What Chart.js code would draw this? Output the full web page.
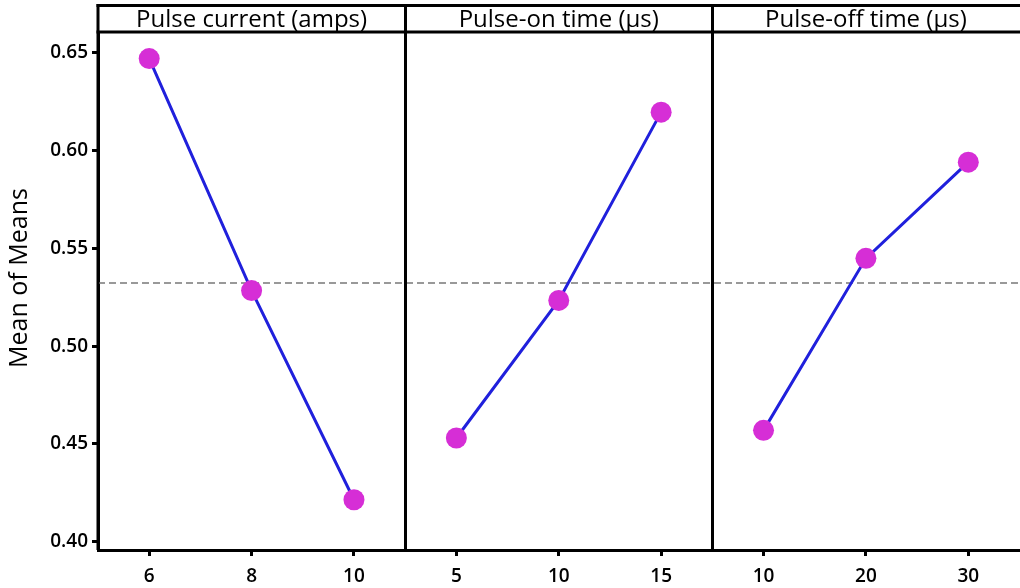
<!DOCTYPE html>
<html>
<head>
<meta charset="utf-8">
<script src="https://cdn.jsdelivr.net/npm/chart.js@4.4.1/dist/chart.umd.min.js"></script>
<style>
  html, body { margin: 0; padding: 0; background: #ffffff; overflow: hidden; }
  #wrap { position: relative; width: 1030px; height: 588px; }
  canvas { display: block; }
</style>
</head>
<body>
<div id="wrap"><canvas id="c" width="1030" height="588"></canvas></div>
<script>
// ---- Data ----
const panelTitles = ['Pulse current (amps)', 'Pulse-on time (\u03bcs)', 'Pulse-off time (\u03bcs)'];
const currentLevels = ['6', '8', '10'];
const onTimeLevels = ['5', '10', '15'];
const offTimeLevels = ['10', '20', '30'];
const currentMeans = [0.6471, 0.5284, 0.4214];
const onTimeMeans = [0.4530, 0.5234, 0.6197];
const offTimeMeans = [0.4569, 0.5449, 0.5941];
const grandMean = 0.5323;
const yTickValues = [0.40, 0.45, 0.50, 0.55, 0.60, 0.65];
const yTitle = 'Mean of Means';

// ---- Build chart structures ----
const levelGroups = [currentLevels, onTimeLevels, offTimeLevels];
const meanGroups = [currentMeans, onTimeMeans, offTimeMeans];
const xLabels = levelGroups.flat();
const nPanels = levelGroups.length;
const perPanel = 3;

const FONT = '"Open Sans", "Noto Sans", sans-serif';
const LINE_COLOR = '#2020dc';
const DOT_COLOR = '#d62ed6';

const datasets = meanGroups.map((vals, p) => ({
  data: vals.map((v, i) => ({ x: p * perPanel + i, y: v })),
  borderColor: LINE_COLOR,
  borderWidth: 3,
  pointRadius: 10.5,
  pointHoverRadius: 10.5,
  pointBackgroundColor: DOT_COLOR,
  pointBorderWidth: 0,
  tension: 0,
  order: 1
}));
datasets.unshift({
  data: [{ x: -0.5, y: grandMean }, { x: nPanels * perPanel - 0.5, y: grandMean }],
  borderColor: '#999999',
  borderWidth: 2,
  borderDash: [7, 4],
  pointRadius: 0,
  order: 2
});

const framePlugin = {
  id: 'frame',
  afterDraw(chart) {
    const ctx = chart.ctx;
    const area = chart.chartArea;
    const xs = chart.scales.x;
    ctx.save();
    ctx.strokeStyle = '#000';
    ctx.lineWidth = 3;
    const headerTop = 5.5;
    ctx.beginPath();
    ctx.moveTo(area.left - 1.5, headerTop);
    ctx.lineTo(chart.width, headerTop);
    ctx.stroke();
    ctx.beginPath();
    ctx.moveTo(area.left - 1.5, area.top);
    ctx.lineTo(chart.width, area.top);
    ctx.stroke();
    ctx.beginPath();
    ctx.moveTo(area.left, headerTop - 1.5);
    ctx.lineTo(area.left, area.bottom);
    ctx.stroke();
    for (let p = 1; p < nPanels; p++) {
      const px = Math.round(xs.getPixelForValue(p * perPanel - 0.5)) + 0.5;
      ctx.beginPath();
      ctx.moveTo(px, headerTop - 1.5);
      ctx.lineTo(px, area.bottom);
      ctx.stroke();
    }
    ctx.fillStyle = '#000';
    ctx.font = '24px ' + FONT;
    ctx.textAlign = 'center';
    ctx.textBaseline = 'middle';
    for (let p = 0; p < nPanels; p++) {
      const l = xs.getPixelForValue(p * perPanel - 0.5);
      const r = xs.getPixelForValue(p * perPanel + perPanel - 0.5);
      ctx.fillText(panelTitles[p], (l + r) / 2, (headerTop + area.top) / 2 + 1);
    }
    ctx.translate(20, 278);
    ctx.rotate(-Math.PI / 2);
    ctx.font = '25px ' + FONT;
    ctx.fillText(yTitle, 0, 0);
    ctx.restore();
  }
};

new Chart(document.getElementById('c'), {
  type: 'line',
  data: { datasets },
  options: {
    responsive: false,
    animation: false,
    devicePixelRatio: 1,
    events: [],
    layout: { padding: { top: 32, right: 6, left: 0, bottom: 0 } },
    plugins: { legend: { display: false }, tooltip: { enabled: false }, title: { display: false } },
    scales: {
      x: {
        type: 'linear',
        min: -0.5,
        max: nPanels * perPanel - 0.5,
        afterBuildTicks(scale) {
          scale.ticks = xLabels.map((_, i) => ({ value: i }));
        },
        afterFit(scale) { scale.height = 38; },
        ticks: {
          autoSkip: false,
          maxRotation: 0,
          padding: 9,
          color: '#000',
          font: { family: FONT, size: 19, weight: '600' },
          callback: (v) => xLabels[v]
        },
        grid: { display: true, drawOnChartArea: false, drawTicks: true, tickLength: 6, tickWidth: 3, tickColor: '#000' },
        border: { display: true, color: '#000', width: 3 }
      },
      y: {
        type: 'linear',
        min: 0.3957,
        max: 0.6607,
        afterBuildTicks(scale) {
          scale.ticks = yTickValues.map(v => ({ value: v }));
        },
        afterFit(scale) { scale.width = 98; },
        ticks: {
          padding: 4,
          color: '#000',
          font: { family: FONT, size: 19, weight: '600' },
          callback: (v) => v.toFixed(2)
        },
        grid: { display: true, drawOnChartArea: false, drawTicks: true, tickLength: 6, tickWidth: 3, tickColor: '#000' },
        border: { display: true, color: '#000', width: 3 }
      }
    }
  },
  plugins: [framePlugin]
});
</script>
</body>
</html>
